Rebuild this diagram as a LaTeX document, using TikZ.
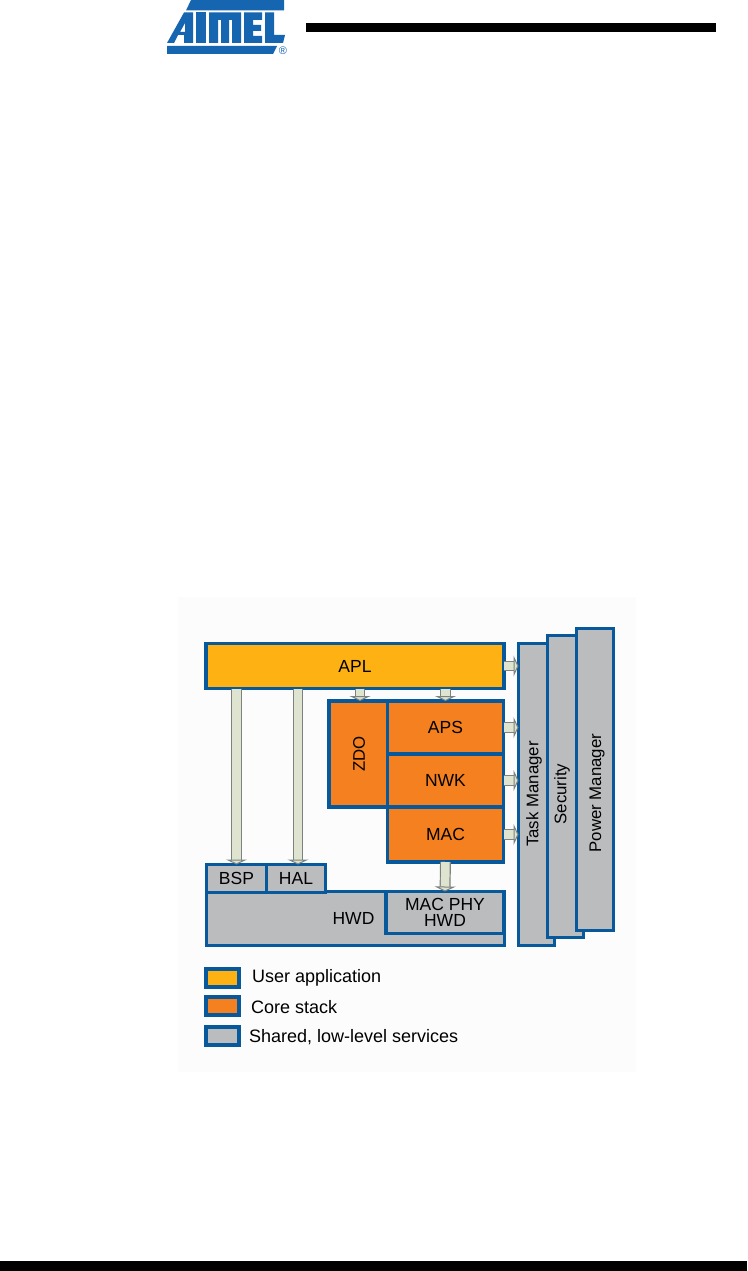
\documentclass[tikz,border=0pt]{standalone}
\usepackage{fontspec}
\setmainfont{Liberation Sans}
\usetikzlibrary{arrows.meta}
\definecolor{edgeblue}{HTML}{07599B}
\definecolor{logoblue}{HTML}{1565B0}
\definecolor{appyellow}{HTML}{FDB113}
\definecolor{coreorange}{HTML}{F5801F}
\definecolor{lowgray}{HTML}{BBBCBE}
\definecolor{shaftgreen}{HTML}{DEE4CF}
\definecolor{shaftedge}{HTML}{7D827E}
\tikzset{
  x=1pt,y=-1pt,
  blockbox/.style={draw=edgeblue,line width=3.8pt,outer sep=0pt,inner sep=0pt,anchor=north west,font=\fontsize{17.5}{18}\selectfont,align=center},
  thinbox/.style={blockbox,line width=3.2pt,fill=lowgray},
  appbox/.style={blockbox,fill=appyellow},
  corebox/.style={blockbox,fill=coreorange},
  lowbox/.style={blockbox,fill=lowgray},
  swatch/.style={draw=edgeblue,line width=3.6pt,outer sep=0pt,inner sep=0pt,anchor=north west,minimum width=33pt,minimum height=18pt},
  legendtext/.style={anchor=west,inner sep=0pt,font=\fontsize{18}{19}\selectfont},
  vtext/.style={rotate=90,inner sep=0pt,font=\fontsize{16.8}{17}\selectfont},
  flowarrow/.style={draw=shaftedge,line width=1.2pt,double=shaftgreen,double distance=8.5pt,
    -{Triangle[length=5pt,width=21pt,line width=1pt,fill=shaftgreen,color=shaftedge]}},
  logofill/.style={fill=logoblue,draw=none},
}
\begin{document}
\begin{tikzpicture}
\useasboundingbox (0,0) rectangle (747,1271);
\fill[white] (0,0) rectangle (747,1271);
\fill[black!1] (178,597) rectangle (636,1072);
% header and footer rules
\fill[black] (306,23) rectangle (716,32);
\fill[black] (0,1261) rectangle (747,1271);
% logo
\fill[logofill] (191,0) -- (284,0) -- (284,10.5) -- (186,10.5) -- cycle;
\fill[logofill,even odd rule] (167,43) -- (184,12.5) -- (193,12.5) -- (193,43) -- (184,43) -- (184,35) -- (178,35) -- (174,43) -- cycle
   (185,23) -- (185,32) -- (180,32) -- cycle;
\fill[logofill] (196,12.5) rectangle (206,43);
\fill[logofill] (209,12.5) -- (241,12.5) -- (241,43) -- (232,43) -- (232,20) -- (229,20) -- (229,43) -- (221,43) -- (221,20) -- (218,20) -- (218,43) -- (209,43) -- cycle;
\fill[logofill] (244,12.5) -- (262,12.5) -- (262,20) -- (253,20) -- (253,25) -- (261,25) -- (261,31) -- (253,31) -- (253,36) -- (262,36) -- (262,43) -- (244,43) -- cycle;
\fill[logofill] (265,12.5) -- (274,12.5) -- (274,35) -- (285,35) -- (283,43) -- (265,43) -- cycle;
\fill[logofill] (167,46) -- (277,46) -- (273,54) -- (167,54) -- cycle;
\node[inner sep=0pt,text=logoblue,font=\fontsize{11}{11}\selectfont] (regmark) at (283,50.5) {®};
% side stacks
\node[thinbox,minimum width=36pt,minimum height=302pt] (task) at (518.5,643.5) {};
\node[thinbox,minimum width=36pt,minimum height=302pt] (security) at (547.5,635.5) {};
\node[thinbox,minimum width=37pt,minimum height=302pt] (power) at (576.5,628.5) {};
\node[vtext] (tasktext) at (534,794) {Task Manager};
\node[vtext] (securitytext) at (562,794) {Security};
\node[vtext] (powertext) at (597,793) {Power Manager};
% upper blocks
\node[appbox,minimum width=298pt,minimum height=45pt] (apl) at (206,643.5) {APL};
\node[corebox,minimum width=60pt,minimum height=106pt] (zdo) at (329,701) {\rotatebox{90}{\fontsize{16.8}{17}\selectfont ZDO}};
\node[corebox,minimum width=116pt,minimum height=53pt] (aps) at (387.5,701) {APS};
\node[corebox,minimum width=116pt,minimum height=53pt] (nwk) at (387.5,754) {NWK};
\node[corebox,minimum width=116pt,minimum height=55pt] (mac) at (387.5,807) {MAC};
% lower blocks
\node[lowbox,minimum width=298pt,minimum height=54pt] (hwd) at (206.5,891.5) {};
\node[inner sep=0pt,font=\fontsize{17.5}{18}\selectfont] (hwdtext) at (353.5,918) {HWD};
\node[lowbox,minimum width=60pt,minimum height=28pt] (bsp) at (206.5,864.5) {BSP};
\node[lowbox,minimum width=59pt,minimum height=28pt] (hal) at (266.5,864.5) {HAL};
\node[lowbox,minimum width=118pt,minimum height=42pt,font=\fontsize{17.5}{15.5}\selectfont] (phy) at (386,891.5) {MAC PHY\\HWD};
% flows
\draw[flowarrow] (bsp.north |- apl.south) -- (bsp.north);
\draw[flowarrow] ([xshift=2pt]hal.north |- apl.south) -- ([xshift=2pt]hal.north);
\draw[flowarrow] ([xshift=1pt]zdo.north |- apl.south) -- ([xshift=1pt]zdo.north);
\draw[flowarrow] (aps.north |- apl.south) -- (aps.north);
\draw[flowarrow] (mac.south) -- (phy.north);
\draw[flowarrow] (apl.east) -- (apl.east -| task.west);
\draw[flowarrow] (aps.east) -- (aps.east -| task.west);
\draw[flowarrow] (nwk.east) -- (nwk.east -| task.west);
\draw[flowarrow] (mac.east) -- (mac.east -| task.west);
% legend
\node[swatch,fill=appyellow] (swapp) at (206,969) {};
\node[swatch,fill=coreorange] (swcore) at (206,997) {};
\node[swatch,fill=lowgray] (swlow) at (206,1027) {};
\node[legendtext] (txtapp) at (252,978) {User application};
\node[legendtext] (txtcore) at (251,1007) {Core stack};
\node[legendtext] (txtlow) at (249,1037) {Shared, low-level services};
\end{tikzpicture}
\end{document}
